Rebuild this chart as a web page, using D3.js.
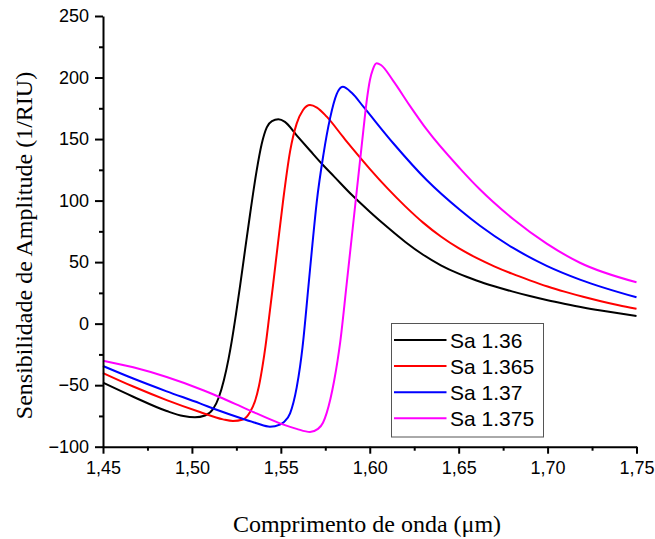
<!DOCTYPE html>
<html>
<head>
<meta charset="utf-8">
<script src="https://cdn.jsdelivr.net/npm/d3@7"></script>
<style>
  html, body { margin: 0; padding: 0; background: #fff; }
  svg { display: block; }
</style>
</head>
<body>
<svg id="chart" width="655" height="539"></svg>
<script>
// Tick values for both axes
const wavelengthTicks = [1.45, 1.50, 1.55, 1.60, 1.65, 1.70, 1.75];
const wavelengthMinor = [1.475, 1.525, 1.575, 1.625, 1.675, 1.725];
const sensTicks = [-100, -50, 0, 50, 100, 150, 200, 250];
const sensMinor = [-75, -25, 25, 75, 125, 175, 225];

// Legend entries
const seriesNames = ["Sa 1.36", "Sa 1.365", "Sa 1.37", "Sa 1.375"];
const seriesColors = ["#000000", "#ff0000", "#0000ff", "#ff00ff"];

// Amplitude sensitivity (1/RIU) versus wavelength (µm)
const sa136 = [
  [1.4500, -48.0], [1.4670, -59.4], [1.4858, -71.0], [1.4952, -75.1], [1.5017, -76.1],
  [1.5074, -74.6], [1.5119, -69.4], [1.5152, -59.6], [1.5180, -45.8], [1.5206, -28.6],
  [1.5224, -14.2], [1.5248, 7.9], [1.5270, 29.9], [1.5299, 60.1], [1.5327, 88.9],
  [1.5364, 124.4], [1.5392, 145.8], [1.5421, 159.5], [1.5450, 164.5], [1.5486, 166.0],
  [1.5523, 163.9], [1.5589, 153.0], [1.5664, 140.7], [1.5737, 128.9], [1.5800, 119.5],
  [1.5900, 104.5], [1.6000, 91.0], [1.6100, 78.3], [1.6200, 66.4], [1.6300, 56.0],
  [1.6400, 47.4], [1.6500, 40.6], [1.6600, 35.1], [1.6700, 30.4], [1.6800, 26.2],
  [1.6900, 22.4], [1.7000, 19.0], [1.7100, 16.0], [1.7200, 13.2], [1.7300, 10.7],
  [1.7400, 8.4], [1.7500, 6.3]
];
const sa1365 = [
  [1.4500, -40.1], [1.4670, -51.1], [1.4858, -62.1], [1.5045, -71.8], [1.5175, -77.8],
  [1.5231, -79.1], [1.5287, -77.9], [1.5327, -71.8], [1.5355, -62.9], [1.5377, -50.7],
  [1.5397, -34.5], [1.5414, -18.0], [1.5434, 5.0], [1.5456, 31.0], [1.5484, 65.5],
  [1.5512, 99.0], [1.5552, 140.0], [1.5589, 162.5], [1.5625, 173.6], [1.5664, 177.7],
  [1.5703, 175.6], [1.5758, 168.2], [1.5850, 151.7], [1.5900, 142.8], [1.6000, 125.8],
  [1.6100, 109.9], [1.6200, 95.3], [1.6300, 82.1], [1.6400, 70.8], [1.6500, 61.3],
  [1.6600, 53.4], [1.6700, 46.6], [1.6800, 40.6], [1.6900, 35.2], [1.7000, 30.2],
  [1.7100, 25.8], [1.7200, 21.8], [1.7300, 18.2], [1.7400, 14.9], [1.7500, 12.0]
];
const sa137 = [
  [1.4500, -34.4], [1.4670, -44.6], [1.4858, -55.0], [1.5045, -64.8], [1.5139, -70.0],
  [1.5289, -77.5], [1.5364, -80.9], [1.5439, -83.7], [1.5495, -82.0], [1.5518, -79.9],
  [1.5552, -72.9], [1.5589, -52.0], [1.5608, -35.0], [1.5622, -19.0], [1.5655, 30.0],
  [1.5678, 65.0], [1.5702, 99.0], [1.5739, 137.0], [1.5777, 167.0], [1.5814, 186.5],
  [1.5848, 192.5], [1.5900, 187.4], [1.5964, 176.3], [1.6131, 146.8], [1.6320, 116.7],
  [1.6508, 92.3], [1.6620, 79.5], [1.6806, 61.5], [1.6995, 47.0], [1.7182, 35.8],
  [1.7500, 21.4]
];
const sa1375 = [
  [1.4500, -30.1], [1.4670, -35.5], [1.4858, -43.4], [1.5045, -53.1], [1.5148, -59.2],
  [1.5308, -69.4], [1.5495, -81.0], [1.5589, -85.5], [1.5664, -88.0], [1.5709, -85.5],
  [1.5737, -80.5], [1.5758, -72.5], [1.5779, -61.0], [1.5799, -47.0], [1.5819, -30.0],
  [1.5833, -16.0], [1.5870, 32.0], [1.5927, 108.0], [1.5964, 157.0], [1.5982, 180.0],
  [1.6001, 198.0], [1.6018, 206.9], [1.6039, 211.6], [1.6063, 210.2], [1.6131, 197.5],
  [1.6226, 177.0], [1.6320, 157.8], [1.6508, 126.0], [1.6620, 109.0], [1.6693, 99.0],
  [1.6806, 85.0], [1.6995, 65.0], [1.7182, 49.5], [1.7500, 33.6]
];
const seriesData = [sa136, sa1365, sa137, sa1375];

const svg = d3.select("#chart");

const x = d3.scaleLinear().domain([1.45, 1.75]).range([103, 636.5]);
const y = d3.scaleLinear().domain([-100, 250]).range([446.7, 16]);

const sansFont = "'Liberation Sans', Arial, sans-serif";
const serifFont = "'Liberation Serif', 'Times New Roman', serif";

// Curves
const line = d3.line()
  .x(d => x(d[0]))
  .y(d => y(d[1]))
  .curve(d3.curveMonotoneX);

svg.append("g")
  .selectAll("path")
  .data(seriesData)
  .join("path")
  .attr("fill", "none")
  .attr("stroke", (d, i) => seriesColors[i])
  .attr("stroke-width", 2)
  .attr("stroke-linejoin", "round")
  .attr("d", line);

// Minor ticks
svg.append("g")
  .attr("transform", `translate(0,${y(-100)})`)
  .call(d3.axisBottom(x).tickValues(wavelengthMinor).tickSize(4).tickFormat(""))
  .call(g => g.select(".domain").remove())
  .call(g => g.selectAll("line").attr("stroke-width", 2));

svg.append("g")
  .attr("transform", `translate(${x(1.45)},0)`)
  .call(d3.axisLeft(y).tickValues(sensMinor).tickSize(4).tickFormat(""))
  .call(g => g.select(".domain").remove())
  .call(g => g.selectAll("line").attr("stroke-width", 2));

// Major axes
const fmtX = d => d3.format(".2f")(d).replace(".", ",");

const xAxis = svg.append("g")
  .attr("transform", `translate(0,${y(-100)})`)
  .call(d3.axisBottom(x).tickValues(wavelengthTicks).tickSize(7).tickSizeOuter(0)
    .tickPadding(8).tickFormat(fmtX));
xAxis.select(".domain").attr("stroke-width", 2);
xAxis.selectAll(".tick line").attr("stroke-width", 2);
xAxis.selectAll("text")
  .attr("font-family", sansFont)
  .attr("font-size", 18)
  .attr("fill", "#000");

const yAxis = svg.append("g")
  .attr("transform", `translate(${x(1.45)},0)`)
  .call(d3.axisLeft(y).tickValues(sensTicks).tickSize(8).tickSizeOuter(0)
    .tickPadding(6).tickFormat(d3.format("d")));
yAxis.select(".domain").attr("stroke-width", 2);
yAxis.selectAll(".tick line").attr("stroke-width", 2);
yAxis.selectAll("text")
  .attr("font-family", sansFont)
  .attr("font-size", 18)
  .attr("fill", "#000");

// Axis titles
svg.append("text")
  .attr("x", 367)
  .attr("y", 531.5)
  .attr("text-anchor", "middle")
  .attr("font-family", serifFont)
  .attr("font-size", 24)
  .text("Comprimento de onda (μm)");

svg.append("text")
  .attr("transform", "translate(31.5,245.5) rotate(-90)")
  .attr("text-anchor", "middle")
  .attr("font-family", serifFont)
  .attr("font-size", 24)
  .text("Sensibilidade de Amplitude (1/RIU)");

// Legend
const legend = svg.append("g");
legend.append("rect")
  .attr("x", 391.5)
  .attr("y", 323.5)
  .attr("width", 152)
  .attr("height", 113.5)
  .attr("fill", "#fff")
  .attr("stroke", "#555")
  .attr("stroke-width", 1);

const rows = legend.selectAll("g.row")
  .data(seriesNames)
  .join("g")
  .attr("class", "row")
  .attr("transform", (d, i) => `translate(0,${340 + i * 26.1})`);

rows.append("line")
  .attr("x1", 394)
  .attr("x2", 446.5)
  .attr("stroke", (d, i) => seriesColors[i])
  .attr("stroke-width", 2);

rows.append("text")
  .attr("x", 450)
  .attr("y", 0)
  .attr("dy", "0.36em")
  .attr("font-family", sansFont)
  .attr("font-size", 21)
  .attr("fill", "#000")
  .text(d => d);
</script>
</body>
</html>
